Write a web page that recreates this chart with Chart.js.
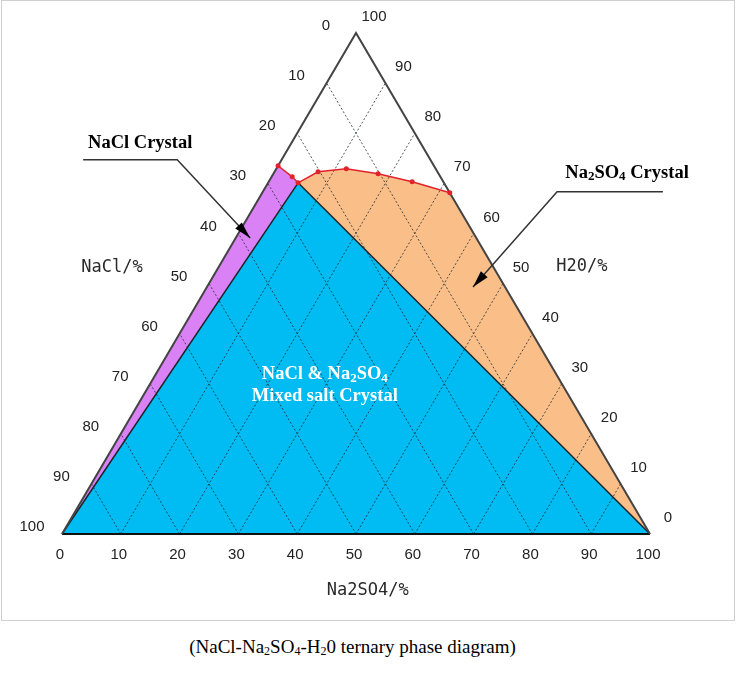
<!DOCTYPE html>
<html>
<head>
<meta charset="utf-8">
<script src="https://cdn.jsdelivr.net/npm/chart.js@4.4.1/dist/chart.umd.min.js"></script>
<style>
  body { margin: 0; background: #fff; }
  #wrap { position: relative; width: 736px; height: 678px; }
  #frame { position: absolute; left: 1px; top: 0; width: 734px; height: 621px; box-sizing: border-box; border: 1px solid #cfcfcf; }
  #c { position: absolute; left: 0; top: 0; }
  #caption { position: absolute; left: 0; top: 636px; width: 705px; text-align: center;
    font: 19px "Liberation Serif", "Times New Roman", serif; color: #000; }
  #caption sub { font-size: 12px; vertical-align: -2px; }
</style>
</head>
<body>
<div id="wrap">
  <div id="frame"></div>
  <canvas id="c" width="736" height="620"></canvas>
  <div id="caption">(NaCl-Na<sub>2</sub>SO<sub>4</sub>-H<sub>2</sub>0 ternary phase diagram)</div>
</div>
<script>
// axis tick values (wt%)
const tickValues = [0, 10, 20, 30, 40, 50, 60, 70, 80, 90, 100];
const gridValues = [10, 20, 30, 40, 50, 60, 70, 80, 90];

// solubility curve, left edge -> right edge (wt%)
const curveNaCl   = [26.5, 25.2, 24.8, 20.3, 15.2, 10.3, 5.3, 0];
const curveNa2SO4 = [0,    3.5,  5.1,  7.4,  11.9, 17.8, 24.4, 31.9];
const curveH2O    = [73.5, 71.3, 70.1, 72.3, 72.9, 71.9, 70.3, 68.1];
const invariantIndex = 2;

// leader lines for the region labels (chart x/y units)
const naclLeaderX   = [3.6, 19.6, 32.0];
const naclLeaderY   = [74.7, 74.7, 59.1];
const na2so4LeaderX = [102.2, 84.2, 69.9];
const na2so4LeaderY = [68.3, 68.3, 49.3];

// ternary (NaCl, Na2SO4, H2O) -> chart x/y
function toXY(nacl, na2so4, h2o) {
  return { x: na2so4 + h2o / 2, y: h2o };
}

const curve = curveNaCl.map((v, i) => toXY(v, curveNa2SO4[i], curveH2O[i]));
const E = curve[invariantIndex];
const BL = toXY(100, 0, 0);
const BR = toXY(0, 100, 0);
const TOP = toXY(0, 0, 100);

function poly(points, color, order) {
  return { data: points, showLine: true, fill: 'shape', backgroundColor: color,
    borderWidth: 0, borderColor: color, pointRadius: 0, order: order, clip: false, tension: 0 };
}
function line(points, color, width, order, dash) {
  return { data: points, showLine: true, fill: false, borderColor: color, borderWidth: width,
    borderDash: dash || [], pointRadius: 0, order: order, clip: false, tension: 0 };
}

const datasets = [];
datasets.push(poly([curve[0], curve[1], E, BL, curve[0]], '#DA82F5', 20));
datasets.push(poly([BL, BR, E, BL], '#00BCF2', 20));
datasets.push(poly([E].concat(curve.slice(invariantIndex + 1), [BR, E]), '#FABF88', 20));

gridValues.forEach(v => {
  datasets.push(line([toXY(100 - v, v, 0), toXY(0, v, 100 - v)], 'rgba(25,35,45,0.75)', 1, 10, [2, 2]));
  datasets.push(line([toXY(v, 100 - v, 0), toXY(v, 0, 100 - v)], 'rgba(25,35,45,0.75)', 1, 10, [2, 2]));
});

datasets.push(line([E, BL], '#1b2328', 1.5, 5));
datasets.push(line([E, BR], '#1b2328', 1.5, 5));
datasets.push(line([BR, TOP, BL], '#444', 2, 4));
datasets.push(line([BL, BR], '#111', 2, 4));

datasets.push({ data: curve, showLine: true, fill: false, borderColor: '#E2222A', borderWidth: 1.5,
  pointRadius: 2.5, pointBackgroundColor: '#E2222A', pointBorderWidth: 0, order: 1, clip: false, tension: 0 });

datasets.push(line(naclLeaderX.map((x, i) => ({ x: x, y: naclLeaderY[i] })), '#333', 1.5, 0));
datasets.push(line(na2so4LeaderX.map((x, i) => ({ x: x, y: na2so4LeaderY[i] })), '#333', 1.5, 0));

function drawRich(ctx, parts, cx, cy, size, family, weight, color) {
  const subSize = Math.round(size * 0.68);
  let total = 0;
  parts.forEach(p => {
    ctx.font = weight + ' ' + (p.sub ? subSize : size) + 'px ' + family;
    p.w = ctx.measureText(p.t).width;
    total += p.w;
  });
  let x = cx - total / 2;
  ctx.fillStyle = color;
  ctx.textAlign = 'left';
  ctx.textBaseline = 'middle';
  parts.forEach(p => {
    ctx.font = weight + ' ' + (p.sub ? subSize : size) + 'px ' + family;
    ctx.fillText(p.t, x, p.sub ? cy + size * 0.22 : cy);
    x += p.w;
  });
}

function arrowHead(ctx, x0, y0, x1, y1) {
  const ang = Math.atan2(y1 - y0, x1 - x0);
  const len = 17, half = 4.5;
  ctx.save();
  ctx.translate(x1, y1);
  ctx.rotate(ang);
  ctx.beginPath();
  ctx.moveTo(0, 0);
  ctx.lineTo(-len, -half);
  ctx.lineTo(-len, half);
  ctx.closePath();
  ctx.fillStyle = '#000';
  ctx.fill();
  ctx.restore();
}

const labelsPlugin = {
  id: 'ternaryLabels',
  afterDatasetsDraw(chart) {
    const ctx = chart.ctx;
    const sx = chart.scales.x, sy = chart.scales.y;
    const px = v => sx.getPixelForValue(v);
    const py = v => sy.getPixelForValue(v);
    ctx.save();

    // tick numbers on the three edges
    ctx.font = '15px "Liberation Sans", Arial, sans-serif';
    ctx.fillStyle = '#222';
    ctx.textAlign = 'center';
    ctx.textBaseline = 'middle';
    tickValues.forEach(v => {
      let p = toXY(100 - v, v, 0);
      ctx.fillText(String(v), px(p.x) - 2, py(p.y) + 21);
      p = toXY(v, 0, 100 - v);
      ctx.fillText(String(v), px(p.x) - 30, py(p.y) - 7);
      p = toXY(0, 100 - v, v);
      ctx.fillText(String(v), px(p.x) + 18, py(p.y) - 16);
    });

    // axis titles
    ctx.font = '17px "DejaVu Sans Mono", "Liberation Mono", monospace';
    ctx.fillStyle = '#2a2a2a';
    ctx.fillText('NaCl/%', px(8.5), py(53.1));
    ctx.fillText('H20/%', px(88.4), py(53.3));
    ctx.fillText('Na2SO4/%', px(52.0), py(-11.2));

    // region labels
    const serif = '"Liberation Serif", "Times New Roman", serif';
    drawRich(ctx, [{ t: 'NaCl Crystal' }], px(13.3), py(78.0), 18.5, serif, 'bold', '#000');
    drawRich(ctx, [{ t: 'Na' }, { t: '2', sub: true }, { t: 'SO' }, { t: '4', sub: true }, { t: ' Crystal' }],
      px(96.1), py(72.1), 18.5, serif, 'bold', '#000');
    drawRich(ctx, [{ t: 'NaCl & Na' }, { t: '2', sub: true }, { t: 'SO' }, { t: '4', sub: true }],
      px(44.7), py(31.9), 18.5, serif, 'bold', '#fff');
    drawRich(ctx, [{ t: 'Mixed salt Crystal' }], px(44.7), py(27.6), 18.5, serif, 'bold', '#fff');

    // arrow heads at the end of each leader
    [[naclLeaderX, naclLeaderY], [na2so4LeaderX, na2so4LeaderY]].forEach(([lx, ly]) => {
      const n = lx.length;
      arrowHead(ctx, px(lx[n - 2]), py(ly[n - 2]), px(lx[n - 1]), py(ly[n - 1]));
    });
    ctx.restore();
  }
};

new Chart(document.getElementById('c'), {
  type: 'scatter',
  data: { datasets: datasets },
  options: {
    responsive: false,
    devicePixelRatio: 1,
    animation: false,
    layout: { padding: { left: 62, right: 86, top: 33, bottom: 86 } },
    scales: {
      x: { type: 'linear', min: 0, max: 100, display: false },
      y: { type: 'linear', min: 0, max: 100, display: false }
    },
    plugins: { legend: { display: false }, tooltip: { enabled: false } }
  },
  plugins: [labelsPlugin]
});
</script>
</body>
</html>
